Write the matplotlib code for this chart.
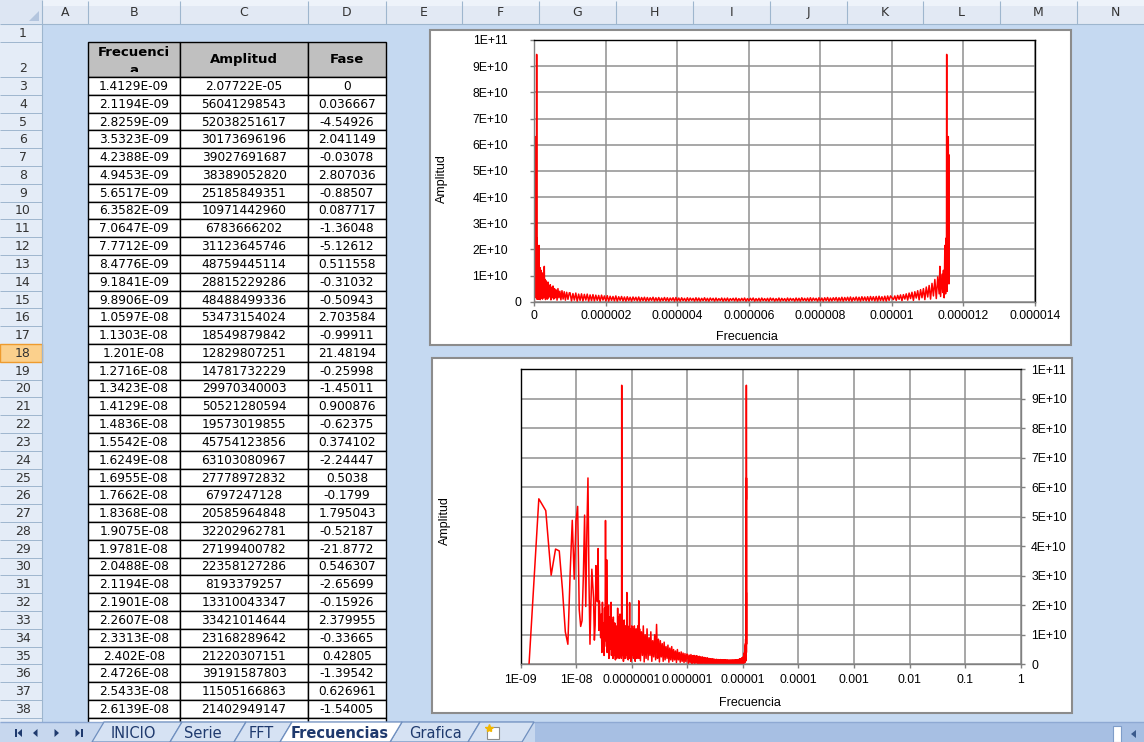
import numpy as np
import matplotlib
matplotlib.use("Agg")
import matplotlib.pyplot as plt
from matplotlib.patches import Rectangle, Polygon
from matplotlib.ticker import FixedLocator, FixedFormatter, NullLocator
from matplotlib.transforms import Bbox, ScaledTranslation

plt.rcParams["font.family"] = ["Liberation Sans", "DejaVu Sans"]

# ======================= DATA =======================
column_letters = ["A", "B", "C", "D", "E", "F", "G", "H", "I", "J", "K", "L", "M", "N"]
header_labels = ["Frecuenci\na", "Amplitud", "Fase"]
first_table_row = 3
selected_row = 18

freq_labels = ["1.4129E-09", "2.1194E-09", "2.8259E-09", "3.5323E-09", "4.2388E-09", "4.9453E-09",
               "5.6517E-09", "6.3582E-09", "7.0647E-09", "7.7712E-09", "8.4776E-09", "9.1841E-09",
               "9.8906E-09", "1.0597E-08", "1.1303E-08", "1.201E-08", "1.2716E-08", "1.3423E-08",
               "1.4129E-08", "1.4836E-08", "1.5542E-08", "1.6249E-08", "1.6955E-08", "1.7662E-08",
               "1.8368E-08", "1.9075E-08", "1.9781E-08", "2.0488E-08", "2.1194E-08", "2.1901E-08",
               "2.2607E-08", "2.3313E-08", "2.402E-08", "2.4726E-08", "2.5433E-08", "2.6139E-08"]
amp_labels = ["2.07722E-05", "56041298543", "52038251617", "30173696196", "39027691687", "38389052820",
              "25185849351", "10971442960", "6783666202", "31123645746", "48759445114", "28815229286",
              "48488499336", "53473154024", "18549879842", "12829807251", "14781732229", "29970340003",
              "50521280594", "19573019855", "45754123856", "63103080967", "27778972832", "6797247128",
              "20585964848", "32202962781", "27199400782", "22358127286", "8193379257", "13310043347",
              "33421014644", "23168289642", "21220307151", "39191587803", "11505166863", "21402949147"]
phase_labels = ["0", "0.036667", "-4.54926", "2.041149", "-0.03078", "2.807036",
                "-0.88507", "0.087717", "-1.36048", "-5.12612", "0.511558", "-0.31032",
                "-0.50943", "2.703584", "-0.99911", "21.48194", "-0.25998", "-1.45011",
                "0.900876", "-0.62375", "0.374102", "-2.24447", "0.5038", "-0.1799",
                "1.795043", "-0.52187", "-21.8772", "0.546307", "-2.65699", "-0.15926",
                "2.379955", "-0.33665", "0.42805", "-1.39542", "0.626961", "-1.54005"]

# rest of the spectrum
# frequencies in units of 1e-9, amplitudes in units of 1e9
freq_b_n = [27.5, 28.2, 28.9, 29.6, 30.3, 31.0, 31.7, 32.4, 33.0,
            33.6, 34.3, 35.0, 35.3,
            36.0, 36.7, 37.4, 38.1, 38.8, 39.5, 40.2, 40.9, 41.6, 42.3, 43.0, 43.7, 44.4, 45.1, 45.8,
            46.5, 47.2, 47.9, 48.6, 49.3, 50.0, 50.7, 51.4, 52.1, 52.8, 53.5, 54.2, 54.9, 55.6, 56.3,
            57.0, 57.7, 58.4, 59.1, 59.8, 60.5, 61.2, 61.9, 62.6, 63.3, 64.0, 64.7, 65.4,
            65.8,
            66.5, 67.2, 67.9, 68.6, 69.3, 70.0, 70.7, 71.4, 72.1, 72.8, 73.5, 74.2, 74.9, 75.6, 76.3,
            77.0, 77.7, 78.4, 79.1, 79.8, 80.5,
            81.4,
            82.1, 82.8, 83.5, 84.2, 84.9, 85.6, 86.3, 87.0, 87.7, 88.4, 89.1, 89.8, 90.5,
            91.3,
            92.0, 92.7, 93.4, 94.1, 94.8, 95.5, 96.2,
            97.0, 98.4, 99.8, 101.2, 102.6, 104.0, 105.4, 106.8, 108.2, 109.6, 111.0, 112.4, 113.8,
            115.2, 116.6, 118.0, 119.4, 120.8, 122.2, 123.6, 125.0, 126.4, 127.8, 129.2, 130.6, 132.0,
            133.4, 134.8]
amp_b_g = [9, 17, 4, 21, 7, 14, 3, 19, 8,
           48.7, 11, 6, 35.4,
           4, 18, 7, 20, 2, 16, 5, 13, 9, 21, 3, 12, 6, 15, 2,
           16, 8, 11, 3, 14, 5, 1.5, 12, 4, 9, 2, 13, 6, 19, 3,
           12, 7, 16, 2, 10, 5, 17, 3, 11, 6, 13, 2, 8,
           94.5,
           4, 15, 3, 12, 6, 14, 1, 10, 4, 15, 2, 11, 6, 9, 2,
           13, 5, 10, 3, 12, 6,
           24.3,
           4, 11, 2, 13, 7, 10, 1.5, 12, 5, 9, 3, 11, 6,
           20.9,
           2, 10, 4, 12, 6, 8, 1,
           11, 4, 13, 3, 9, 5, 12, 2, 10, 4, 13, 6, 8,
           1, 11, 3, 12, 5, 9, 2, 10, 6, 13, 3, 8, 4,
           21.5, 2]
freq_c_n = [138, 143, 149, 155, 161, 167, 174, 181, 188, 196, 204, 212, 220, 229, 238, 248, 258,
            268, 279, 290, 302, 314, 326, 339, 353, 367, 382, 397, 413, 430, 447, 465, 483, 503,
            523, 544, 565, 588, 611, 636, 661, 688, 715, 744, 774, 805, 837, 870, 905, 941, 979]
amp_c_g = [12, 1.2, 11, 3, 13, 0.8, 10, 2, 12, 1.5, 9, 3, 11, 1, 8, 2.5, 10,
           1.5, 13.5, 2, 8.5, 0.8, 8, 2.5, 7, 1, 7.5, 1.5, 6, 2, 6.5, 0.7, 5.5, 1.5,
           6, 1, 5, 1.5, 4.5, 0.6, 5, 1.5, 4, 0.7, 4.2, 1, 3.8, 0.6, 3.6, 0.9, 3.4]
freq_d_n = [1000, 1040, 1080, 1120, 1160, 1200, 1240, 1280, 1320, 1360,
            1400, 1440, 1480, 1520, 1560, 1600, 1640, 1680, 1720, 1760,
            1800, 1840, 1880, 1920, 1960, 2000, 2040, 2080, 2120, 2160,
            2200, 2240, 2280, 2320, 2360, 2400, 2440, 2480, 2520, 2560,
            2600, 2640, 2680, 2720, 2760, 2800, 2840, 2880, 2920, 2960,
            3000, 3040, 3080, 3120, 3160, 3200, 3240, 3280, 3320, 3360,
            3400, 3440, 3480, 3520, 3560, 3600, 3640, 3680, 3720, 3760,
            3800, 3840, 3880, 3920, 3960, 4000, 4040, 4080, 4120, 4160,
            4200, 4240, 4280, 4320, 4360, 4400, 4440, 4480, 4520, 4560,
            4600, 4640, 4680, 4720, 4760, 4800, 4840, 4880, 4920, 4960,
            5000, 5040, 5080, 5120, 5160, 5200, 5240, 5280, 5320, 5360,
            5400, 5440, 5480, 5520, 5560, 5600, 5640, 5680, 5720, 5760,
            5800, 5840, 5880, 5920, 5960, 6000, 6040, 6080, 6120, 6160,
            6200, 6240, 6280, 6320, 6360, 6400, 6440, 6480, 6520, 6560,
            6600, 6640, 6680, 6720, 6760, 6800, 6840, 6880, 6920, 6960,
            7000, 7040, 7080, 7120, 7160, 7200, 7240, 7280, 7320, 7360,
            7400, 7440, 7480, 7520, 7560, 7600, 7640, 7680, 7720, 7760,
            7800, 7840, 7880, 7920, 7960, 8000, 8040, 8080, 8120, 8160,
            8200, 8240, 8280, 8320, 8360, 8400, 8440, 8480, 8520, 8560,
            8600, 8640, 8680, 8720, 8760, 8800, 8840, 8880, 8920, 8960,
            9000, 9040, 9080, 9120, 9160, 9200, 9240, 9280, 9320, 9360,
            9400, 9440, 9480, 9520, 9560, 9600, 9640, 9680, 9720, 9760,
            9800, 9840, 9880, 9920, 9960]
amp_d_g = [3.4, 0.3, 3.1, 0.6, 3.3, 0.2, 2.9, 0.5, 3.0, 0.3,
           2.8, 0.6, 2.9, 0.2, 2.6, 0.4, 2.7, 0.3, 2.5, 0.5,
           2.4, 0.2, 2.5, 0.6, 2.2, 0.3, 2.3, 0.2, 2.1, 0.5,
           2.0, 0.3, 2.2, 0.2, 1.9, 0.5, 2.0, 0.3, 1.8, 0.2,
           1.9, 0.4, 1.7, 0.2, 1.8, 0.5, 1.7, 0.3, 1.8, 0.2,
           1.6, 0.4, 1.7, 0.2, 1.6, 0.3, 1.5, 0.5, 1.7, 0.2,
           1.5, 0.3, 1.6, 0.2, 1.4, 0.4, 1.6, 0.3, 1.5, 0.2,
           1.4, 0.5, 1.5, 0.2, 1.6, 0.3, 1.4, 0.2, 1.5, 0.4,
           1.3, 0.2, 1.5, 0.3, 1.4, 0.5, 1.3, 0.2, 1.5, 0.3,
           1.4, 0.2, 1.3, 0.4, 1.5, 0.3, 1.3, 0.2, 1.4, 0.5,
           1.3, 0.2, 1.4, 0.3, 1.2, 0.4, 1.4, 0.2, 1.3, 0.3,
           1.4, 0.2, 1.2, 0.5, 1.3, 0.3, 1.4, 0.2, 1.2, 0.3,
           1.3, 0.4, 1.4, 0.2, 1.2, 0.3, 1.3, 0.5, 1.4, 0.2,
           1.2, 0.3, 1.3, 0.2, 1.4, 0.4, 1.2, 0.3, 1.3, 0.2,
           1.4, 0.5, 1.3, 0.2, 1.2, 0.3, 1.4, 0.2, 1.3, 0.4,
           1.2, 0.2, 1.4, 0.3, 1.3, 0.5, 1.2, 0.2, 1.4, 0.3,
           1.3, 0.2, 1.5, 0.4, 1.3, 0.3, 1.4, 0.2, 1.5, 0.3,
           1.4, 0.5, 1.3, 0.2, 1.5, 0.3, 1.4, 0.2, 1.5, 0.4,
           1.6, 0.2, 1.4, 0.3, 1.5, 0.5, 1.6, 0.2, 1.5, 0.3,
           1.7, 0.2, 1.6, 0.4, 1.7, 0.3, 1.8, 0.2, 1.6, 0.5,
           1.8, 0.3, 1.7, 0.2, 1.9, 0.4, 1.8, 0.3, 1.9, 0.2,
           2.0, 0.5, 1.9, 0.3, 2.0, 0.2, 2.1, 0.4, 1.9, 0.3,
           2.1, 0.2, 2.2, 0.5, 2.2]
freq_e_n = [10040, 10080, 10120, 10160, 10200, 10240, 10280, 10320, 10360, 10400,
            10440, 10480, 10520, 10560, 10600, 10640, 10680, 10720, 10760, 10800,
            10840, 10880, 10920, 10960, 11000, 11040, 11080, 11120, 11160, 11200,
            11240, 11280, 11320, 11340, 11360, 11400, 11420, 11440, 11460, 11480]
amp_e_g = [0.8, 2.2, 0.5, 2.4, 0.9, 2.6, 0.4, 2.7, 1.0, 3.0,
           0.6, 3.3, 1.2, 3.6, 0.5, 3.8, 1.4, 4.2, 0.7, 4.6,
           1.5, 5.0, 0.8, 5.6, 1.8, 6.2, 1.0, 7.0, 2.2, 8.5,
           1.2, 9.5, 3.0, 13.5, 2.0, 10.5, 3.5, 12.0, 1.5, 21.5]
freq_f_n = [11500, 11505, 11510, 11515, 11520, 11525, 11531, 11534, 11540, 11545,
            11550, 11555, 11557, 11560, 11565, 11570, 11575, 11578, 11581, 11584,
            11587, 11590, 11592, 11593, 11594, 11595, 11596, 11597, 11598, 11599, 11600]
amp_f_g = [3.0, 15.0, 4.0, 24.3, 6.0, 12.0, 94.5, 8.0, 15.0, 4.0,
           20.0, 35.0, 48.7, 12.0, 30.0, 18.0, 63.1, 45.8, 50.5, 18.5,
           53.5, 48.5, 31.1, 6.8, 11.0, 25.2, 38.4, 39.0, 30.2, 52.0, 56.0]

x_title = "Frecuencia"
y_title = "Amplitud"
lin_freq_tick_labels = ["0", "0.000002", "0.000004", "0.000006", "0.000008", "0.00001", "0.000012", "0.000014"]
log_freq_tick_labels = ["1E-09", "1E-08", "0.0000001", "0.000001", "0.00001", "0.0001", "0.001", "0.01", "0.1", "1"]
amp_tick_labels = ["0", "1E+10", "2E+10", "3E+10", "4E+10", "5E+10", "6E+10", "7E+10", "8E+10", "9E+10", "1E+11"]

sheet_tabs = ["INICIO", "Serie", "FFT", "Frecuencias", "Grafica"]
active_tab = "Frecuencias"

# ======================= SERIES =======================
spectrum_freq = np.array([float(s) for s in freq_labels]
                         + [v * 1e-9 for v in freq_b_n + freq_c_n + freq_d_n + freq_e_n + freq_f_n])
spectrum_amp = np.array([float(s) for s in amp_labels]
                        + [v * 1e9 for v in amp_b_g + amp_c_g + amp_d_g + amp_e_g + amp_f_g])

# ======================= FIGURE =======================
W, H = 1144, 742
SHEET_BG = "#C5D9F1"
HDR_LINE = "#9EB6CE"
CELL_FONT = "DejaVu Sans"

fig = plt.figure(figsize=(W / 100, H / 100), dpi=100)
fig.patch.set_facecolor(SHEET_BG)
bg = fig.add_axes([0, 0, 1, 1])
bg.set_xlim(0, W)
bg.set_ylim(H, 0)
bg.axis("off")


def box(x0, y0, x1, y1, fc, ec="none", lw=0.0, z=1):
    bg.add_patch(Rectangle((x0, y0), x1 - x0, y1 - y0, facecolor=fc, edgecolor=ec,
                           linewidth=lw, zorder=z))


def hvline(xs, ys, color, lw=0.8, z=2):
    bg.plot(xs, ys, color=color, lw=lw, zorder=z, solid_capstyle="butt")


col_edges = [42, 88, 180, 308, 386, 462, 539, 616, 693, 770, 847, 923, 1000, 1077, 1153]
HDR_H = 24


def row_top(r):
    if r == 1:
        return 24.0
    if r == 2:
        return 41.8
    return 77.0 + (r - 3) * 17.8


# column header strip
box(0, 0, W, HDR_H, "#E2E9F4", z=1)
box(0, 0, W, 6, "#EEF3FA", z=1)
for i, letter in enumerate(column_letters):
    x0, x1 = col_edges[i], col_edges[i + 1]
    hvline([x1, x1], [1, HDR_H], HDR_LINE)
    bg.text((x0 + x1) / 2, HDR_H / 2 + 0.5, letter, ha="center", va="center",
            fontsize=9, family=CELL_FONT, color="#333333", zorder=3)
hvline([0, W], [HDR_H, HDR_H], HDR_LINE)
box(0, 0, 42, HDR_H, "#DDE6F3", z=2)
bg.add_patch(Polygon([(29, 21), (39, 21), (39, 11)], closed=True, facecolor="#B3C5DE",
                     edgecolor="none", zorder=3))
hvline([42, 42], [0, HDR_H], HDR_LINE, z=3)

# row headers
n_rows = first_table_row + len(freq_labels)  # rows 1..39
for r in range(1, n_rows + 1):
    y0, y1 = row_top(r), row_top(r + 1)
    if r == selected_row:
        box(0, y0, 42, y1, "#FBD08C", ec="#EE9B2E", lw=1.0, z=2)
    else:
        box(0, y0, 42, y1, "#E4ECF7", z=1)
        hvline([0, 42], [y1, y1], HDR_LINE, lw=0.7)
    if r == 2:
        yc = y1 - 8.5
    else:
        yc = (y0 + y1) / 2 + 0.5
    bg.text(23, yc, str(r), ha="center", va="center", fontsize=9, family=CELL_FONT,
            color="#333333", zorder=3)
hvline([42, 42], [HDR_H, 722], HDR_LINE)

# table header
for j, lab in enumerate(header_labels):
    x0, x1 = col_edges[1 + j], col_edges[2 + j]
    y0, y1 = row_top(2), row_top(3)
    box(x0, y0, x1, y1, "#C0C0C0", ec="black", lw=1.0, z=4)
    lines = lab.split("\n")
    if len(lines) == 1:
        bg.text((x0 + x1) / 2, (y0 + y1) / 2 + 0.5, lines[0], ha="center", va="center",
                fontsize=9.5, fontweight="bold", family=CELL_FONT, color="black", zorder=5)
    else:
        clip = Bbox.from_extents(x0, H - 72.0, x1, H - y0)
        for k, part in enumerate(lines):
            t = bg.text((x0 + x1) / 2, 53 + 17.5 * k, part, ha="center", va="center",
                        fontsize=9.5, fontweight="bold", family=CELL_FONT, color="black", zorder=5)
            t.set_clip_box(clip)
            t.set_clip_on(True)

# table body
for i in range(len(freq_labels)):
    r = first_table_row + i
    y0, y1 = row_top(r), row_top(r + 1)
    for j, lab in enumerate([freq_labels[i], amp_labels[i], phase_labels[i]]):
        x0, x1 = col_edges[1 + j], col_edges[2 + j]
        box(x0, y0, x1, y1, "white", ec="black", lw=1.0, z=4)
        bg.text((x0 + x1) / 2, (y0 + y1) / 2 + 0.5, lab, ha="center", va="center",
                fontsize=8.7, family=CELL_FONT, color="black", zorder=5)
# partially visible next row
r = first_table_row + len(freq_labels)
for j in range(3):
    box(col_edges[1 + j], row_top(r), col_edges[2 + j], row_top(r + 1), "white", ec="black", lw=1.0, z=4)

# chart frames
box(430, 30, 1071, 345, "white", ec="#8C8C8C", lw=1.5, z=2)
box(432, 358, 1072, 713, "white", ec="#8C8C8C", lw=1.5, z=2)
bg.text(441.7, 179, y_title, rotation=90, ha="center", va="center", fontsize=9, zorder=3)
bg.text(747, 336.5, x_title, ha="center", va="center", fontsize=9, zorder=3)
bg.text(445, 521, y_title, rotation=90, ha="center", va="center", fontsize=9, zorder=3)
bg.text(750, 703.3, x_title, ha="center", va="center", fontsize=9, zorder=3)

# sheet tab strip
TAB_Y0 = 722
box(0, TAB_Y0, W, H, "#A7BFE3", z=20)
box(0, TAB_Y0, 535, H, "#C7D7EE", z=20)
hvline([0, W], [TAB_Y0, TAB_Y0], "#8EA9D3", lw=1.0, z=21)
nav_col = "#1F3A6E"
for poly in ([(17.5, 733), (22, 729), (22, 737)], [(33, 733), (37.5, 729), (37.5, 737)],
             [(59, 733), (54.5, 729), (54.5, 737)], [(80, 733), (75.5, 729), (75.5, 737)]):
    bg.add_patch(Polygon(poly, closed=True, facecolor=nav_col, edgecolor="none", zorder=22))
box(15, 729, 16.5, 737, nav_col, z=22)
box(81, 729, 82.5, 737, nav_col, z=22)

tab_seps = [92, 170, 234, 280, 390, 468, 522]
tab_text_x = [133, 203, 261, 340, 436]
SL = 12
order = [i for i in range(len(sheet_tabs)) if sheet_tabs[i] != active_tab]
order += [5, sheet_tabs.index(active_tab)]
for i in order:
    a, b = tab_seps[i], tab_seps[i + 1]
    is_active = i < len(sheet_tabs) and sheet_tabs[i] == active_tab
    fc = "white" if is_active else "#D6E2F3"
    bg.add_patch(Polygon([(a, H), (b, H), (b + SL, TAB_Y0), (a + SL, TAB_Y0)], closed=True,
                         facecolor=fc, edgecolor="#6F8FBF", linewidth=0.9, zorder=23 + (5 if is_active else 0)))
    if i < len(sheet_tabs):
        bg.text(tab_text_x[i], 733.5, sheet_tabs[i], ha="center", va="center",
                fontsize=10.5, family=CELL_FONT, color="#1F3A6E",
                fontweight="bold" if is_active else "normal", zorder=30)
    else:
        box(487, 727, 499, 739, "white", ec="#8C8C8C", lw=0.8, z=30)
        bg.plot([488.5], [727.5], marker="*", ms=6, color="#F2B600", zorder=31)
box(1113, 726, 1121, H, "white", ec="#7F9DC9", lw=0.8, z=22)
bg.add_patch(Polygon([(1131, 734), (1136, 730), (1136, 738)], closed=True,
                     facecolor="#3A5A8C", edgecolor="none", zorder=22))


# ======================= CHARTS =======================
def px_axes(x0, y0, x1, y1):
    return fig.add_axes([x0 / W, 1 - y1 / H, (x1 - x0) / W, (y1 - y0) / H])


GRID = "#8F8F8F"
AXC = "#808080"
amp_ticks = [float(s) for s in amp_tick_labels]

# --- chart 1: linear frequency ---
ax1 = px_axes(534.3, 40, 1035, 301.7)
ax1.plot(spectrum_freq, spectrum_amp, color="#FF0000", lw=1.1)
ax1.set_xlim(0, float(lin_freq_tick_labels[-1]))
ax1.set_ylim(0, amp_ticks[-1])
ax1.xaxis.set_major_locator(FixedLocator([float(s) for s in lin_freq_tick_labels]))
ax1.xaxis.set_major_formatter(FixedFormatter(lin_freq_tick_labels))
ax1.yaxis.set_major_locator(FixedLocator(amp_ticks))
ax1.yaxis.set_major_formatter(FixedFormatter(amp_tick_labels))
ax1.grid(True, color=GRID, lw=1.1)
ax1.set_axisbelow(True)
for s in ("left", "bottom"):
    ax1.spines[s].set_color(AXC)
for s in ("top", "right"):
    ax1.spines[s].set_color("black")
for s in ax1.spines.values():
    s.set_linewidth(1.0)
ax1.tick_params(direction="out", length=3, width=1, color=AXC, labelsize=8.8)
ax1.tick_params(axis="y", pad=6.5)
ax1.tick_params(axis="x", pad=3)
shift = ScaledTranslation(-13 / 100, 0, fig.dpi_scale_trans)
for lab in ax1.yaxis.get_majorticklabels():
    if lab.get_text() != "0":
        lab.set_transform(lab.get_transform() + shift)

# --- chart 2: logarithmic frequency ---
ax2 = px_axes(520.7, 369, 1020.7, 664.3)
ax2.plot(spectrum_freq, spectrum_amp, color="#FF0000", lw=1.1)
ax2.set_xscale("log")
log_ticks = [float(s) for s in log_freq_tick_labels]
ax2.set_xlim(log_ticks[0], log_ticks[-1])
ax2.set_ylim(0, amp_ticks[-1])
ax2.xaxis.set_major_locator(FixedLocator(log_ticks))
ax2.xaxis.set_major_formatter(FixedFormatter(log_freq_tick_labels))
ax2.xaxis.set_minor_locator(NullLocator())
ax2.yaxis.set_major_locator(FixedLocator(amp_ticks))
ax2.yaxis.set_major_formatter(FixedFormatter(amp_tick_labels))
ax2.yaxis.tick_right()
ax2.grid(True, color=GRID, lw=1.1)
ax2.set_axisbelow(True)
for s in ("right", "bottom"):
    ax2.spines[s].set_color(AXC)
for s in ("top", "left"):
    ax2.spines[s].set_color("black")
for s in ax2.spines.values():
    s.set_linewidth(1.0)
ax2.tick_params(direction="out", length=3, width=1, color=AXC, labelsize=8.8)
ax2.tick_params(axis="y", pad=4.5)
ax2.tick_params(axis="x", pad=4)

fig.savefig("out.png", dpi=100, facecolor=fig.get_facecolor())
